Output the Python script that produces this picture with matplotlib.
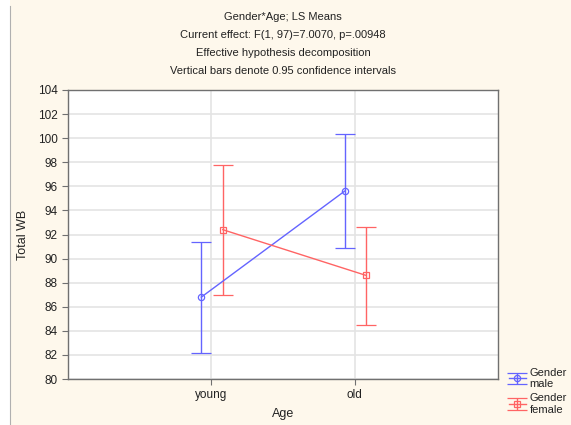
import matplotlib.pyplot as plt
from matplotlib.lines import Line2D

# LS means and 0.95 confidence limits
ages = ['young', 'old']
male_mean = [86.8, 95.6]
male_low = [82.2, 90.9]
male_high = [91.4, 100.35]
female_mean = [92.4, 88.6]
female_low = [87.0, 84.5]
female_high = [97.8, 92.6]

bg = '#fef8ec'
blue = '#6464ff'
red = '#ff6464'

plt.rcParams['font.family'] = ['Liberation Sans', 'DejaVu Sans']

fig = plt.figure(figsize=(5.71, 4.25), dpi=100, facecolor=bg)
# white margin and grey border at the left edge of the screenshot
fig.patches.append(plt.Rectangle((0, 0), 10 / 571, 1, transform=fig.transFigure,
                                 facecolor='white', edgecolor='none', zorder=0))
fig.lines.append(Line2D([10 / 571, 10 / 571], [0, 1 - 6 / 425], transform=fig.transFigure,
                        color='#b0b0b0', lw=0.8))

ax = fig.add_axes([68 / 571, 1 - 379 / 425, 430 / 571, 289 / 425])
ax.set_facecolor('white')

xpos = [1, 2]
xm = [x - 0.07 for x in xpos]
xf = [x + 0.08 for x in xpos]


def draw(xs, mean, low, high, color, marker, label):
    err = [[m - l for m, l in zip(mean, low)], [h - m for m, h in zip(mean, high)]]
    return ax.errorbar(xs, mean, yerr=err, color=color, marker=marker, ms=4.5, mfc='none',
                       mew=0.9, lw=1.0, capsize=7, capthick=1.0, elinewidth=1.0,
                       zorder=3, label=label)


hm = draw(xm, male_mean, male_low, male_high, blue, 'o', 'Gender\nmale')
hf = draw(xf, female_mean, female_low, female_high, red, 's', 'Gender\nfemale')

ax.set_xlim(0, 3)
ax.set_ylim(80, 104)
ax.set_xticks(xpos)
ax.set_xticklabels(ages)
ax.set_yticks(range(80, 105, 2))
ax.grid(True, color='#e4e4e4', lw=1.2)
ax.set_axisbelow(True)
for s in ax.spines.values():
    s.set_color('#707070')
    s.set_linewidth(1.0)
ax.tick_params(colors='#707070', labelcolor='#222222', labelsize=8.5, length=4, width=0.8)
ax.set_xlabel('Age', fontsize=9, color='#222222', labelpad=5)
ax.set_ylabel('Total WB', fontsize=9, color='#222222', labelpad=6)

title = ['Gender*Age; LS Means', 'Current effect: F(1, 97)=7.0070, p=.00948',
         'Effective hypothesis decomposition',
         'Vertical bars denote 0.95 confidence intervals']
for i, line in enumerate(title):
    fig.text(283 / 571, 1 - (17 + 18 * i) / 425, line, ha='center', va='center',
             fontsize=8, color='#222222')

fig.legend([hm, hf], ['Gender\nmale', 'Gender\nfemale'], loc='upper left',
           bbox_to_anchor=(503 / 571, 1 - 362 / 425), frameon=False, fontsize=8,
           handlelength=1.6, handletextpad=0.3, labelspacing=0.35, borderpad=0,
           labelcolor='#222222')

fig.savefig('out.png', dpi=100, facecolor=bg)
